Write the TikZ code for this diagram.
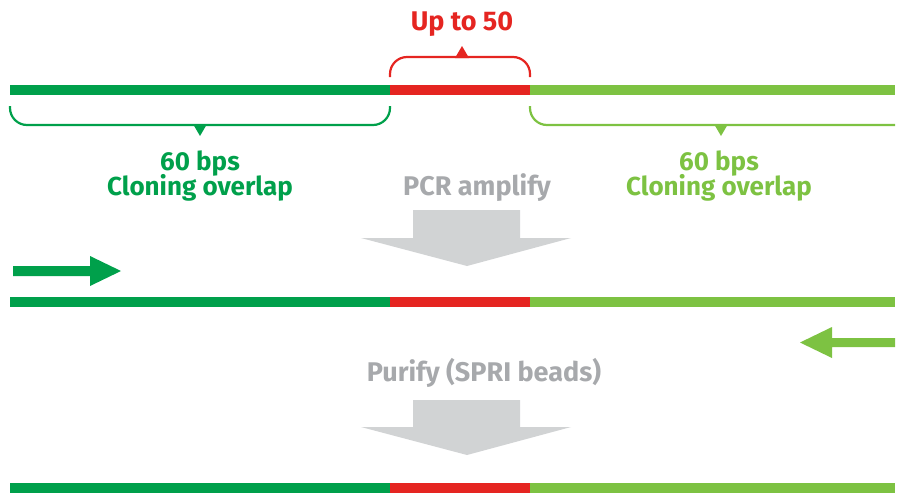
\documentclass[tikz,border=0pt]{standalone}
\usepackage{fontspec}
\setmainfont{Fira Sans}
\usetikzlibrary{positioning,calc}
\definecolor{dkgreen}{RGB}{0,160,75}
\definecolor{ltgreen}{RGB}{125,194,66}
\definecolor{upred}{RGB}{229,37,33}
\definecolor{stepgray}{RGB}{209,211,212}
\definecolor{textgray}{RGB}{167,169,172}
\newcommand \mystrand[2]
{
\coordinate (#1a) at (10,#2);
\coordinate (#1b) at (390,#2);
\coordinate (#1c) at (530,#2);
\coordinate (#1d) at (895,#2);
\draw[strand,dkgreen] (#1a)--(#1b);
\draw[strand,upred]   (#1b)--(#1c);
\draw[strand,ltgreen] (#1c)--(#1d);
}
\newcommand \mystep[2]
{
\fill[stepgray] (413,#1)--(520,#1)--(520,#2)--(571,#2)--(467,#2+28)--(361,#2)--(413,#2)--cycle;
}
\begin{document}
\begin{tikzpicture}[x=1pt,y=-1pt,
  strand/.style={line width=10pt,line cap=butt},
  brace/.style={line width=2.2pt,rounded corners=17pt},
  lbl/.style={font=\bfseries\fontsize{26}{26}\selectfont,anchor=base,inner sep=0pt},
  steplbl/.style={lbl,textgray,font=\bfseries\fontsize{27}{27}\selectfont}]
\useasboundingbox (0,0) rectangle (899,493);
% three copies of the strand
\mystrand{s1}{90}
\mystrand{s2}{302}
\mystrand{s3}{488}
% braces
\draw[brace,dkgreen] (10,106)--(10,125)--(390,125)--(390,106);
\fill[dkgreen] (193,124)--(207,124)--(200,136)--cycle;
\draw[brace,ltgreen] (530,106)--(530,125)--(895,125);
\fill[ltgreen] (714,124)--(728,124)--(721,136)--cycle;
\draw[brace,upred] (390,77)--(390,57)--(530,57)--(530,77);
\fill[upred] (455,58)--(469,58)--(462,46)--cycle;
% labels
\node[lbl,upred,font=\bfseries\fontsize{27}{27}\selectfont] (up) at (462,30) {Up to 50};
\node[lbl,dkgreen] (bpl) at (200,170) {60 bps};
\node[lbl,dkgreen] (col) at (200,195) {Cloning overlap};
\node[lbl,ltgreen] (bpr) at (719,170) {60 bps};
\node[lbl,ltgreen] (cor) at (719,195) {Cloning overlap};
\node[steplbl] (pcr) at (477,195) {PCR amplify};
\node[steplbl] (pur) at (484,381) {Purify (SPRI beads)};
% process steps
\mystep{210}{238}
\mystep{400}{427}
% primers
\fill[dkgreen] (13,266)--(90,266)--(90,256)--(121,271)--(90,286)--(90,276)--(13,276)--cycle;
\fill[ltgreen] (895,338)--(832,338)--(832,327)--(800,342.5)--(832,358)--(832,347)--(895,347)--cycle;
\end{tikzpicture}
\end{document}
